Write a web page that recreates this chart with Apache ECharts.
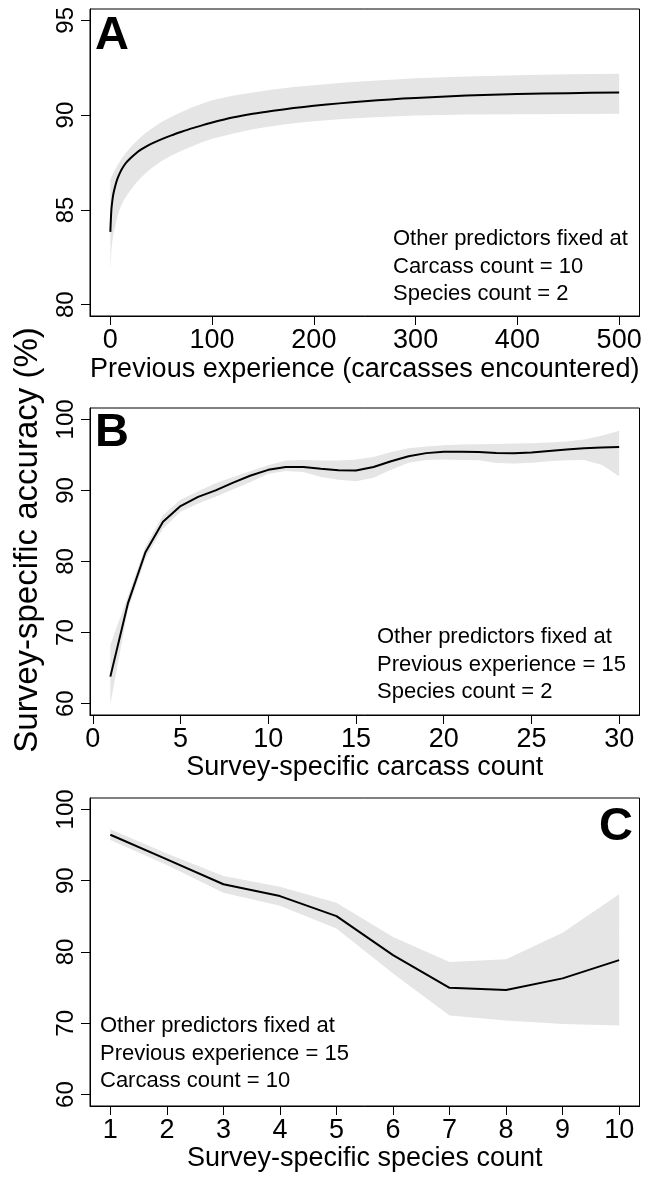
<!DOCTYPE html>
<html><head><meta charset="utf-8">
<script src="https://cdn.jsdelivr.net/npm/echarts@6/dist/echarts.min.js"></script>
<style>html,body{margin:0;padding:0;background:#fff}#c{width:647px;height:1177px}</style>
</head><body><div id="c"></div>
<script>
// Panel A: previous experience
const expX     = [0, 1, 2, 3, 5, 7, 10, 13, 16, 20, 25, 30, 35, 40, 50, 60, 70, 80, 90, 100, 120, 140, 160, 180, 200, 225, 250, 275, 300, 350, 400, 450, 500];
const expFit   = [83.84, 85.0, 85.5, 85.85, 86.3, 86.65, 87.02, 87.3, 87.52, 87.74, 87.98, 88.18, 88.34, 88.48, 88.72, 88.93, 89.12, 89.3, 89.46, 89.61, 89.87, 90.07, 90.23, 90.37, 90.49, 90.62, 90.73, 90.83, 90.91, 91.03, 91.11, 91.16, 91.19];
const expUpper = [86.6, 86.72, 86.84, 86.95, 87.15, 87.35, 87.62, 87.85, 88.05, 88.3, 88.6, 88.85, 89.07, 89.27, 89.62, 89.92, 90.17, 90.4, 90.6, 90.78, 91.02, 91.2, 91.35, 91.48, 91.58, 91.7, 91.79, 91.87, 91.94, 92.04, 92.11, 92.16, 92.18];
const expLower = [81.8, 82.9, 83.35, 83.7, 84.2, 84.65, 85.15, 85.5, 85.75, 86.05, 86.4, 86.7, 86.95, 87.18, 87.57, 87.87, 88.12, 88.35, 88.57, 88.75, 89.02, 89.25, 89.42, 89.57, 89.68, 89.78, 89.86, 89.93, 89.98, 90.03, 90.05, 90.06, 90.07];

// Panel B: survey-specific carcass count
const carcassX     = [1, 2, 3, 4, 5, 6, 7, 8, 9, 10, 11, 12, 13, 14, 15, 16, 17, 18, 19, 20, 21, 22, 23, 24, 25, 26, 27, 28, 29, 30];
const carcassFit   = [63.8, 74.1, 81.3, 85.6, 87.8, 89.1, 90.0, 91.1, 92.1, 92.9, 93.3, 93.3, 93.05, 92.85, 92.8, 93.3, 94.1, 94.8, 95.25, 95.45, 95.45, 95.4, 95.28, 95.25, 95.35, 95.55, 95.75, 95.95, 96.05, 96.1];
const carcassUpper = [68.3, 75.1, 82.1, 86.5, 88.7, 89.9, 91.0, 91.9, 92.75, 93.55, 94.2, 94.3, 94.2, 94.2, 94.35, 94.7, 95.4, 95.95, 96.2, 96.35, 96.45, 96.5, 96.55, 96.6, 96.65, 96.75, 96.9, 97.15, 97.7, 98.4];
const carcassLower = [59.9, 73.2, 80.45, 84.65, 87.0, 88.15, 89.1, 90.15, 91.2, 92.35, 92.75, 92.6, 91.9, 91.5, 91.3, 91.8, 92.9, 93.9, 94.3, 94.35, 94.3, 94.25, 93.85, 93.8, 93.9, 94.1, 94.25, 94.3, 93.6, 92.0];

// Panel C: survey-specific species count
const speciesX     = [1, 2, 3, 4, 5, 6, 7, 8, 9, 10];
const speciesFit   = [96.44, 93.0, 89.5, 87.84, 85.03, 79.57, 74.98, 74.66, 76.3, 78.86];
const speciesUpper = [97.2, 93.8, 90.65, 89.14, 86.9, 82.1, 78.6, 79.0, 82.7, 88.1];
const speciesLower = [95.7, 92.2, 88.3, 86.5, 83.3, 77.0, 71.1, 70.4, 69.9, 69.7];

// Tick labels
const xTicksA = [0, 100, 200, 300, 400, 500];
const xTicksB = [0, 5, 10, 15, 20, 25, 30];
const xTicksC = [1, 2, 3, 4, 5, 6, 7, 8, 9, 10];
const yTicksA = [80, 85, 90, 95];
const yTicksBC = [60, 70, 80, 90, 100];

const FONT = '"Liberation Sans", Arial, Helvetica, sans-serif';
const chart = echarts.init(document.getElementById('c'), null, {renderer: 'canvas'});

const zip = (a, b) => a.map((v, i) => [v, b[i]]);

function xAxisDef(idx, min, max, ticks) {
  return {
    type: 'value', gridIndex: idx, min: min, max: max,
    axisLine: {show: true, onZero: false, lineStyle: {color: '#000', width: 1}},
    axisTick: {show: true, length: 9, customValues: ticks, lineStyle: {color: '#000', width: 1}},
    axisLabel: {customValues: ticks, fontSize: 27, color: '#000', fontFamily: FONT, margin: 11},
    splitLine: {show: false}
  };
}
function yAxisDef(idx, min, max, ticks) {
  return {
    type: 'value', gridIndex: idx, min: min, max: max,
    axisLine: {show: true, onZero: false, lineStyle: {color: '#000', width: 1}},
    axisTick: {show: true, length: 9, customValues: ticks, lineStyle: {color: '#000', width: 1}},
    axisLabel: {customValues: ticks, fontSize: 24, color: '#000', fontFamily: FONT, rotate: 90, margin: 12},
    splitLine: {show: false}
  };
}
function bandSeries(idx, xs, up, lo, fit, smooth) {
  return [
    {
      type: 'custom', xAxisIndex: idx, yAxisIndex: idx, silent: true, z: 1, clip: true,
      data: zip(xs, fit),
      renderItem: function (params, api) {
        if (params.dataIndex !== 0) return null;
        const pts = xs.map((x, i) => api.coord([x, up[i]]));
        for (let i = xs.length - 1; i >= 0; i--) pts.push(api.coord([xs[i], lo[i]]));
        return {type: 'polygon', shape: {points: pts}, style: {fill: '#e5e5e5', stroke: null}};
      }
    },
    {type: 'line', xAxisIndex: idx, yAxisIndex: idx, data: zip(xs, fit), symbol: 'none',
     smooth: smooth, lineStyle: {color: '#000', width: 2}, z: 3}
  ];
}

const gridCommon = {left: 90, width: 549.5, show: true, borderColor: '#000', borderWidth: 1, backgroundColor: 'transparent'};
const titleStyle = {fontSize: 27, color: '#000', fontFamily: FONT};
function annot(x, y0, lines, align) {
  return lines.map((t, i) => ({
    type: 'text', x: x, y: y0 + i * 27.5, z: 10,
    style: {text: t, fontSize: 22, fontFamily: FONT, fill: '#000', textAlign: align || 'left', textVerticalAlign: 'middle'}
  }));
}
function letter(t, x, y, align) {
  return {type: 'text', x: x, y: y, z: 10,
    style: {text: t, fontSize: 47, fontWeight: 'bold', fontFamily: FONT, fill: '#000', textAlign: align, textVerticalAlign: 'middle'}};
}

const option = {
  animation: false,
  backgroundColor: '#fff',
  grid: [
    Object.assign({top: 9, height: 307}, gridCommon),
    Object.assign({top: 408, height: 307}, gridCommon),
    Object.assign({top: 798, height: 308}, gridCommon)
  ],
  xAxis: [
    Object.assign(xAxisDef(0, -20, 520, xTicksA), {name: 'Previous experience (carcasses encountered)', nameLocation: 'middle', nameGap: 40, nameTextStyle: titleStyle}),
    Object.assign(xAxisDef(1, -0.16, 31.16, xTicksB), {name: 'Survey-specific carcass count', nameLocation: 'middle', nameGap: 39, nameTextStyle: titleStyle}),
    Object.assign(xAxisDef(2, 0.64, 10.36, xTicksC), {name: 'Survey-specific species count', nameLocation: 'middle', nameGap: 38, nameTextStyle: titleStyle})
  ],
  yAxis: [
    yAxisDef(0, 79.4, 95.6, yTicksA),
    yAxisDef(1, 58.4, 101.6, yTicksBC),
    yAxisDef(2, 58.4, 101.6, yTicksBC)
  ],
  series: [].concat(
    bandSeries(0, expX, expUpper, expLower, expFit, 0.3),
    bandSeries(1, carcassX, carcassUpper, carcassLower, carcassFit, false),
    bandSeries(2, speciesX, speciesUpper, speciesLower, speciesFit, false)
  ),
  graphic: [].concat(
    [
      letter('A', 95, 36, 'left'),
      letter('B', 95, 433, 'left'),
      letter('C', 633, 827, 'right'),
      {type: 'text', x: 28, y: 540, rotation: Math.PI / 2, z: 10, style: {text: 'Survey-specific accuracy (%)', fontSize: 33, fontFamily: FONT, fill: '#000', textAlign: 'center', textVerticalAlign: 'middle'}}
    ],
    annot(393, 239, ['Other predictors fixed at', 'Carcass count = 10', 'Species count = 2']),
    annot(377, 637, ['Other predictors fixed at', 'Previous experience = 15', 'Species count = 2']),
    annot(100, 1026, ['Other predictors fixed at', 'Previous experience = 15', 'Carcass count = 10'])
  )
};
chart.setOption(option);
</script></body></html>
